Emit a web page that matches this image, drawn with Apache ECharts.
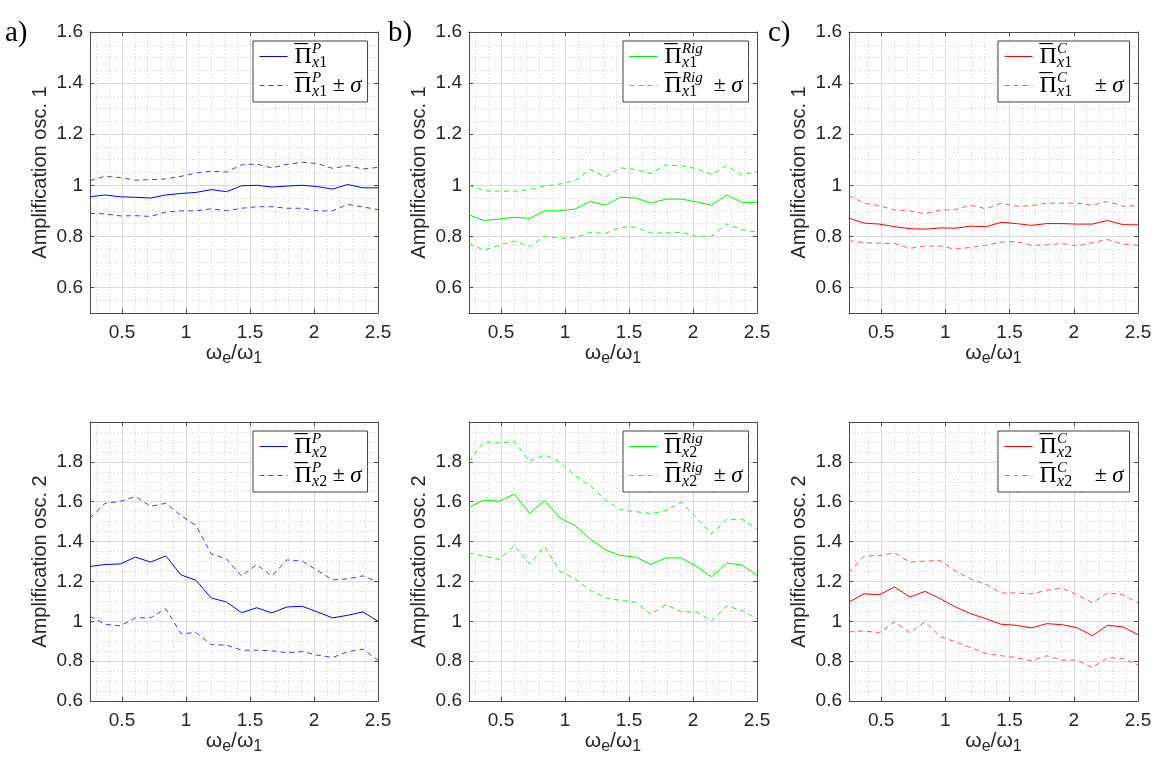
<!DOCTYPE html>
<html><head><meta charset="utf-8">
<script src="https://cdn.jsdelivr.net/npm/echarts@6/dist/echarts.min.js"></script>
<style>html,body{margin:0;padding:0;background:#fff}#c{width:1153px;height:765px}</style>
</head><body><div id="c"></div>
<script>
// ---- data ----
const xs = [0.25, 0.368, 0.487, 0.605, 0.724, 0.842, 0.961, 1.079, 1.197, 1.316, 1.434, 1.553, 1.671, 1.789, 1.908, 2.026, 2.145, 2.263, 2.382, 2.5];

const pX1   = [0.955, 0.962, 0.955, 0.953, 0.95, 0.962, 0.968, 0.972, 0.983, 0.975, 0.998, 1.0, 0.993, 0.997, 1.0, 0.995, 0.985, 1.003, 0.99, 0.99];
const pX1Up = [1.018, 1.035, 1.03, 1.02, 1.022, 1.025, 1.035, 1.048, 1.055, 1.052, 1.08, 1.083, 1.068, 1.082, 1.09, 1.085, 1.066, 1.077, 1.064, 1.07];
const pX1Lo = [0.89, 0.888, 0.88, 0.881, 0.878, 0.895, 0.9, 0.9, 0.908, 0.9, 0.91, 0.916, 0.916, 0.91, 0.91, 0.9, 0.9, 0.925, 0.915, 0.905];

const rigX1   = [0.884, 0.862, 0.868, 0.875, 0.87, 0.9, 0.9, 0.907, 0.937, 0.922, 0.953, 0.95, 0.93, 0.946, 0.946, 0.935, 0.922, 0.962, 0.933, 0.933];
const rigX1Up = [1.0, 0.978, 0.977, 0.977, 0.983, 0.997, 1.005, 1.018, 1.062, 1.032, 1.068, 1.062, 1.046, 1.08, 1.076, 1.065, 1.042, 1.077, 1.04, 1.053];
const rigX1Lo = [0.772, 0.746, 0.765, 0.782, 0.76, 0.8, 0.792, 0.795, 0.815, 0.812, 0.835, 0.836, 0.813, 0.813, 0.816, 0.8, 0.8, 0.848, 0.826, 0.817];

const cX1   = [0.871, 0.852, 0.848, 0.838, 0.83, 0.828, 0.833, 0.832, 0.84, 0.838, 0.855, 0.85, 0.843, 0.85, 0.85, 0.848, 0.848, 0.862, 0.846, 0.845];
const cX1Up = [0.96, 0.93, 0.92, 0.903, 0.9, 0.888, 0.903, 0.905, 0.922, 0.908, 0.93, 0.918, 0.92, 0.93, 0.93, 0.93, 0.922, 0.937, 0.918, 0.92];
const cX1Lo = [0.783, 0.775, 0.773, 0.772, 0.753, 0.762, 0.762, 0.75, 0.757, 0.765, 0.777, 0.78, 0.765, 0.767, 0.772, 0.763, 0.775, 0.788, 0.77, 0.765];

const pX2   = [1.275, 1.285, 1.288, 1.322, 1.297, 1.328, 1.233, 1.205, 1.117, 1.097, 1.043, 1.068, 1.042, 1.072, 1.075, 1.047, 1.017, 1.03, 1.047, 1.0];
const pX2Up = [1.518, 1.592, 1.602, 1.625, 1.577, 1.592, 1.53, 1.48, 1.338, 1.313, 1.227, 1.285, 1.227, 1.308, 1.302, 1.255, 1.208, 1.213, 1.228, 1.198];
const pX2Lo = [1.025, 0.985, 0.977, 1.017, 1.018, 1.063, 0.938, 0.943, 0.883, 0.88, 0.855, 0.855, 0.852, 0.842, 0.848, 0.83, 0.818, 0.847, 0.86, 0.805];

const rigX2   = [1.572, 1.608, 1.602, 1.638, 1.542, 1.605, 1.518, 1.48, 1.413, 1.358, 1.33, 1.322, 1.285, 1.318, 1.318, 1.277, 1.222, 1.292, 1.283, 1.23];
const rigX2Up = [1.8, 1.9, 1.895, 1.902, 1.802, 1.835, 1.8, 1.73, 1.68, 1.61, 1.56, 1.55, 1.54, 1.555, 1.597, 1.52, 1.438, 1.51, 1.513, 1.463];
const rigX2Lo = [1.342, 1.327, 1.31, 1.38, 1.288, 1.375, 1.252, 1.213, 1.155, 1.117, 1.105, 1.095, 1.035, 1.083, 1.048, 1.047, 1.002, 1.077, 1.055, 1.013];

const cX2   = [1.097, 1.138, 1.133, 1.172, 1.122, 1.15, 1.113, 1.072, 1.038, 1.013, 0.985, 0.98, 0.967, 0.988, 0.983, 0.968, 0.927, 0.98, 0.972, 0.933];
const cX2Up = [1.243, 1.327, 1.33, 1.343, 1.297, 1.302, 1.305, 1.252, 1.213, 1.185, 1.142, 1.142, 1.138, 1.155, 1.167, 1.133, 1.092, 1.142, 1.133, 1.093];
const cX2Lo = [0.947, 0.952, 0.942, 0.997, 0.943, 0.997, 0.922, 0.897, 0.868, 0.838, 0.827, 0.818, 0.802, 0.827, 0.805, 0.805, 0.767, 0.818, 0.813, 0.78];

const panelLabels = ['a)', 'b)', 'c)'];
const yNames = ['Amplification osc. 1', 'Amplification osc. 2'];

// ---- layout / style ----
const SANS = 'Liberation Sans, Arial, Helvetica, sans-serif';
const SERIF = 'Liberation Serif, Times New Roman, serif';
const AX = '#4a4a4a';
const TXT = '#262626';

const cols = [{left: 90, width: 288}, {left: 469, width: 288}, {left: 849, width: 289}];
const rows = [{top: 32, height: 281}, {top: 422, height: 279}];

const panels = [
  {r: 0, c: 0, sup: 'P',   osc: '1', d: [pX1, pX1Up, pX1Lo],   col: ['#0000ff', '#3c3cff'], tail: 'sub1'},
  {r: 0, c: 1, sup: 'Rig', osc: '1', d: [rigX1, rigX1Up, rigX1Lo], col: ['#00f000', '#2cf02c'], tail: 'sub1R'},
  {r: 0, c: 2, sup: 'C',   osc: '1', d: [cX1, cX1Up, cX1Lo],   col: ['#ff0000', '#ff5a5a'], tail: 'sub1C'},
  {r: 1, c: 0, sup: 'P',   osc: '2', d: [pX2, pX2Up, pX2Lo],   col: ['#0000ff', '#3c3cff'], tail: 'sub1'},
  {r: 1, c: 1, sup: 'Rig', osc: '2', d: [rigX2, rigX2Up, rigX2Lo], col: ['#00f000', '#2cf02c'], tail: 'sub1R'},
  {r: 1, c: 2, sup: 'C',   osc: '2', d: [cX2, cX2Up, cX2Lo],   col: ['#ff0000', '#ff5a5a'], tail: 'sub1C'}
];

const toPairs = arr => xs.map((x, i) => [x, arr[i]]);

const grids = [], xAxes = [], yAxes = [], series = [], legends = [];

const legendRich = {
  bar:  {fontFamily: SERIF, fontSize: 26, lineHeight: 19, color: '#000', verticalAlign: 'top', width: 0.1, padding: [0, 0, 0, 2]},
  pi:   {fontFamily: SERIF, fontSize: 24, lineHeight: 29, color: '#000', verticalAlign: 'middle'},
  supz: {fontFamily: SERIF, fontSize: 15, fontStyle: 'italic', color: '#000', verticalAlign: 'top', width: 0.1, lineHeight: 15},
  subx: {fontFamily: SERIF, fontSize: 16, fontStyle: 'italic', color: '#000', verticalAlign: 'bottom', lineHeight: 13},
  sub1: {fontFamily: SERIF, fontSize: 16, color: '#000', verticalAlign: 'bottom', lineHeight: 13},
  sub1R:{fontFamily: SERIF, fontSize: 16, color: '#000', verticalAlign: 'bottom', lineHeight: 13, padding: [0, 11, 0, 0]},
  sub1C:{fontFamily: SERIF, fontSize: 16, color: '#000', verticalAlign: 'bottom', lineHeight: 13, padding: [0, 17, 0, 0]},
  pm:   {fontFamily: SERIF, fontSize: 22, color: '#000', verticalAlign: 'middle'},
  sig:  {fontFamily: SERIF, fontSize: 23, fontStyle: 'italic', color: '#000', verticalAlign: 'middle'}
};

panels.forEach((p, i) => {
  const g = Object.assign({}, cols[p.c], rows[p.r]);
  grids.push(Object.assign({outerBoundsMode: 'none', containLabel: false}, g));
  const top = p.r === 0;
  const xCommon = {type: 'value', gridIndex: i, min: 0.25, max: 2.5, splitNumber: 5};
  xAxes.push(Object.assign({}, xCommon, {
    position: 'bottom',
    axisLine: {show: true, onZero: false, lineStyle: {color: AX, width: 1}},
    axisTick: {show: true, inside: true, length: 4, lineStyle: {color: AX}},
    axisLabel: {show: true, showMinLabel: false, margin: 10, fontSize: 19, color: TXT, fontFamily: SANS},
    splitLine: {show: true, lineStyle: {color: '#dadada', width: 1}},
    minorTick: {show: false, splitNumber: 5},
    minorSplitLine: {show: true, lineStyle: {color: '#d8d8d8', width: 1, type: [1, 2]}},
    name: '{w|ω}{s|e}{w|/ω}{s|1}', nameLocation: 'middle', nameGap: 26,
    nameTextStyle: {fontFamily: SANS, color: TXT, rich: {
      w: {fontSize: 21, fontFamily: SANS, color: TXT, lineHeight: 26, verticalAlign: 'middle'},
      s: {fontSize: 16, fontFamily: SANS, color: TXT, lineHeight: 13, verticalAlign: 'bottom'}
    }}
  }));
  xAxes.push(Object.assign({}, xCommon, {
    position: 'top',
    axisLine: {show: true, onZero: false, lineStyle: {color: AX, width: 1}},
    axisTick: {show: true, inside: true, length: 4, lineStyle: {color: AX}},
    axisLabel: {show: false}, splitLine: {show: false}
  }));
  const yCommon = top
    ? {type: 'value', gridIndex: i, min: 0.5, max: 1.6, splitNumber: 5}
    : {type: 'value', gridIndex: i, min: 0.6, max: 2.0, interval: 0.2};
  yAxes.push(Object.assign({}, yCommon, {
    position: 'left',
    axisLine: {show: true, onZero: false, lineStyle: {color: AX, width: 1}},
    axisTick: {show: true, inside: true, length: 4, lineStyle: {color: AX}},
    axisLabel: {show: true, showMinLabel: !top, showMaxLabel: top, margin: 7, fontSize: 19, color: TXT, fontFamily: SANS},
    splitLine: {show: true, lineStyle: {color: '#dadada', width: 1}},
    minorTick: {show: false, splitNumber: 4},
    minorSplitLine: {show: true, lineStyle: {color: '#d8d8d8', width: 1, type: [1, 2]}},
    name: yNames[p.r], nameLocation: 'middle', nameGap: 40, nameRotate: 90,
    nameTextStyle: {fontFamily: SANS, fontSize: 20, color: TXT}
  }));
  yAxes.push(Object.assign({}, yCommon, {
    position: 'right',
    axisLine: {show: true, onZero: false, lineStyle: {color: AX, width: 1}},
    axisTick: {show: true, inside: true, length: 4, lineStyle: {color: AX}},
    axisLabel: {show: false}, splitLine: {show: false}
  }));

  const nMean = 'mean' + i, nSd = 'sd' + i;
  const base = {type: 'line', xAxisIndex: 2 * i, yAxisIndex: 2 * i, symbol: 'none', showSymbol: false, silent: true, animation: false};
  series.push(Object.assign({}, base, {name: nMean, data: toPairs(p.d[0]), itemStyle: {color: p.col[0]}, lineStyle: {color: p.col[0], width: 1, type: 'solid'}, z: 3}));
  series.push(Object.assign({}, base, {name: nSd, data: toPairs(p.d[1]), itemStyle: {color: p.col[1]}, lineStyle: {color: p.col[1], width: 1, type: [5, 4]}}));
  series.push(Object.assign({}, base, {name: nSd, data: toPairs(p.d[2]), itemStyle: {color: p.col[1]}, lineStyle: {color: p.col[1], width: 1, type: [5, 4]}}));

  const sub = '{subx|x}{' + p.tail + '|' + p.osc + '}';
  const head = '{bar|¯}{pi|Π}{supz|' + p.sup + '}' + sub;
  legends.push({
    show: true, orient: 'vertical', selectedMode: false,
    left: g.left + (p.c === 0 ? 163 : (p.c === 1 ? 154 : 149)), top: g.top + 9,
    padding: [1, 6, 2, 6], itemGap: 0, itemWidth: 28, itemHeight: 14,
    borderColor: '#404040', borderWidth: 1, backgroundColor: '#ffffff',
    itemStyle: {opacity: 0},
    lineStyle: {width: 1},
    data: [nMean, nSd],
    formatter: name => name === nMean ? head : head + '{pm| ± }{sig|σ}',
    textStyle: {fontFamily: SERIF, color: '#000', rich: legendRich}
  });
});

const titles = panelLabels.map((t, k) => ({
  text: t, left: [5, 388, 768][k], top: 19, padding: 0,
  textStyle: {fontFamily: SERIF, fontSize: 29, fontWeight: 'normal', color: '#000'}
}));

const chart = echarts.init(document.getElementById('c'), null, {renderer: 'canvas'});
chart.setOption({
  backgroundColor: '#ffffff',
  animation: false,
  title: titles,
  grid: grids,
  xAxis: xAxes,
  yAxis: yAxes,
  legend: legends,
  series: series
});
</script></body></html>
